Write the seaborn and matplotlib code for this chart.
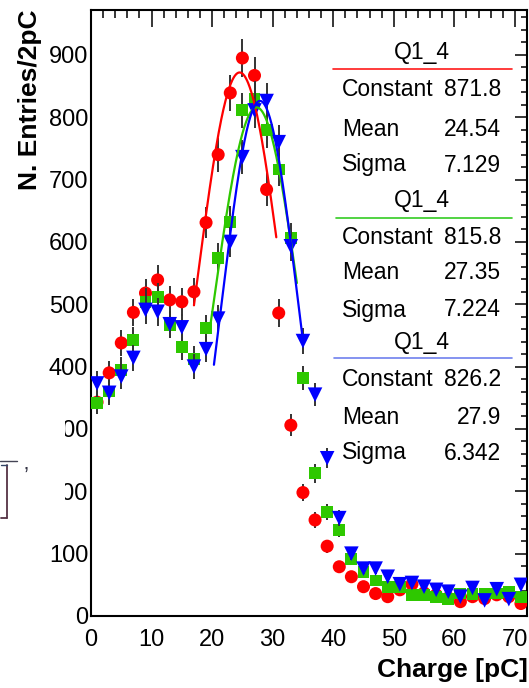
import numpy as np
import pandas as pd
import matplotlib
matplotlib.use("Agg")
import matplotlib.pyplot as plt
from matplotlib.patches import Rectangle
from matplotlib.lines import Line2D
import seaborn as sns

# ---------------- data ----------------
charge = [1, 3, 5, 7, 9, 11, 13, 15, 17, 19, 21, 23, 25, 27, 29, 31, 33, 35,
          37, 39, 41, 43, 45, 47, 49, 51, 53, 55, 57, 59, 61, 63, 65, 67, 69, 71]

red_counts = [343, 390, 438, 487, 518, 539, 507, 504, 520, 631, 740, 839, 895, 867, 684, 486, 306, 198,
              154, 112, 79, 63, 47, 36, 31, 42, 51, 37, 34, 29, 23, 31, 28, 34, 31, 20]
green_counts = [342, 360, 395, 443, 504, 512, 467, 431, 412, 462, 574, 632, 811, 830, 779, 716, 606, 382,
                229, 167, 138, 91, 71, 57, 47, 47, 34, 34, 31, 27, 36, 35, 36, 36, 39, 31]
blue_counts = [373, 358, 384, 414, 491, 488, 468, 463, 400, 428, 477, 600, 736, 811, 826, 760, 593, 441,
               355, 253, 157, 100, 76, 76, 63, 51, 53, 47, 42, 39, 31, 45, 25, 43, 27, 50]

# Gaussian fit results (Constant, Mean, Sigma) and fit ranges
fit_names = ["Q1_4", "Q1_4", "Q1_4"]
fit_const = [871.8, 815.8, 826.2]
fit_mean = [24.54, 27.35, 27.9]
fit_sigma = [7.129, 7.224, 6.342]
fit_lo = [17.0, 19.6, 20.3]
fit_hi = [30.6, 34.0, 35.0]

x_ticks = [0, 10, 20, 30, 40, 50, 60, 70]
y_ticks = [0, 100, 200, 300, 400, 500, 600, 700, 800, 900]

# ---------------- style ----------------
sns.set_theme(style="white")
plt.rcParams["font.family"] = ["Liberation Sans", "DejaVu Sans"]

W, H = 529, 688
fig = plt.figure(figsize=(W / 100, H / 100), dpi=100)
fig.patch.set_facecolor("white")


def fx(px):
    return px / W


def fy(py):
    return 1 - py / H


ax = fig.add_axes([fx(91), fy(616), (527 - 91) / W, (616 - 10) / H])
ax.set_facecolor("white")

colors = ["#ff0000", "#2ec800", "#0000ff"]
line_colors = ["#ff1a1a", "#33cc22", "#6f80ee"]
markers = ["o", "s", "v"]
sizes = [88, 72, 110]
series = [red_counts, green_counts, blue_counts]

for i, (vals, c, m, s) in enumerate(zip(series, colors, markers, sizes)):
    vals = np.asarray(vals, dtype=float)
    ax.errorbar(charge, vals, yerr=np.sqrt(vals), fmt="none", ecolor="#333333",
                elinewidth=1.4, capsize=0, zorder=2 + 2 * i)
    df = pd.DataFrame({"charge": charge, "count": vals})
    sns.scatterplot(data=df, x="charge", y="count", marker=m, color=c, s=s,
                    edgecolor="none", linewidth=0, ax=ax, zorder=3 + 2 * i, legend=False)

# fit curves
for i in range(3):
    xs = np.linspace(fit_lo[i], fit_hi[i], 200)
    ys = fit_const[i] * np.exp(-0.5 * ((xs - fit_mean[i]) / fit_sigma[i]) ** 2)
    sns.lineplot(x=xs, y=ys, color=colors[i], lw=1.6, ax=ax, sort=False, zorder=8 + i)

ax.set_xlim(0, 72)
ax.set_ylim(0, 972)
ax.set_xticks(x_ticks)
ax.set_yticks(y_ticks)
ax.set_xticks(np.arange(0, 73, 2), minor=True)
ax.set_yticks(np.arange(0, 972, 20), minor=True)
ax.set_xticklabels([str(v) for v in x_ticks])
ax.set_yticklabels([str(v) for v in y_ticks])
ax.set_xlabel("")
ax.set_ylabel("")

for sp in ax.spines.values():
    sp.set_color("black")
    sp.set_linewidth(1.5)

ax.tick_params(axis="both", which="both", direction="in", top=True, right=True,
               color="black", width=1.1, labelsize=17, labelcolor="black")
ax.tick_params(axis="x", which="major", length=12, pad=9)
ax.tick_params(axis="x", which="minor", length=6)
ax.tick_params(axis="y", which="major", length=8.8, pad=2)
ax.tick_params(axis="y", which="minor", length=4.4)
ax.grid(False)

# axis titles
fig.text(fx(30), fy(9), "N. Entries/2pC", rotation=90, ha="center", va="top",
         fontsize=19, fontweight="bold", color="black")
fig.text(fx(528), fy(670), "Charge [pC]", ha="right", va="center",
         fontsize=19, fontweight="bold", color="black")

# stats boxes
box_title_y = [53, 200, 342]
box_line_y = [69, 218, 358]
box_rows_y = [[90, 130, 165], [237, 273, 310], [379, 417, 453]]
box_line_x0 = [333, 336, 334]
row_labels = ["Constant", "Mean", "Sigma"]
for i in range(3):
    fig.text(fx(422), fy(box_title_y[i]), fit_names[i], ha="center", va="center",
             fontsize=16.5, color="black")
    fig.add_artist(Line2D([fx(box_line_x0[i]), fx(512)], [fy(box_line_y[i])] * 2,
                          color=line_colors[i], lw=1.2))
    vals = [f"{fit_const[i]:.1f}", f"{fit_mean[i]:g}", f"{fit_sigma[i]:.3f}"]
    for lab, val, ry in zip(row_labels, vals, box_rows_y[i]):
        fig.text(fx(342), fy(ry), lab, ha="left", va="center", fontsize=16.5, color="black")
        fig.text(fx(501), fy(ry), val, ha="right", va="center", fontsize=16.5, color="black")

# overlapping fragment of a neighbouring picture at the left edge
fig.add_artist(Rectangle((0, fy(540)), fx(64.5), (540 - 405) / H, transform=fig.transFigure,
                         facecolor="white", edgecolor="none", zorder=20))
fig.add_artist(Line2D([fx(0), fx(17)], [fy(461)] * 2, color="#444455", lw=1.0, zorder=21))
fig.add_artist(Line2D([fx(7), fx(7)], [fy(465), fy(518)], color="#553344", lw=1.3, zorder=21))
fig.add_artist(Line2D([fx(1), fx(7)], [fy(518)] * 2, color="#553344", lw=1.3, zorder=21))
fig.add_artist(Line2D([fx(1), fx(7)], [fy(465)] * 2, color="#334466", lw=1.0, zorder=21))
fig.text(fx(26), fy(476), "\u2019", fontsize=16, ha="center", va="center", color="#333344", zorder=22)

fig.savefig("out.png", dpi=100, facecolor="white")
